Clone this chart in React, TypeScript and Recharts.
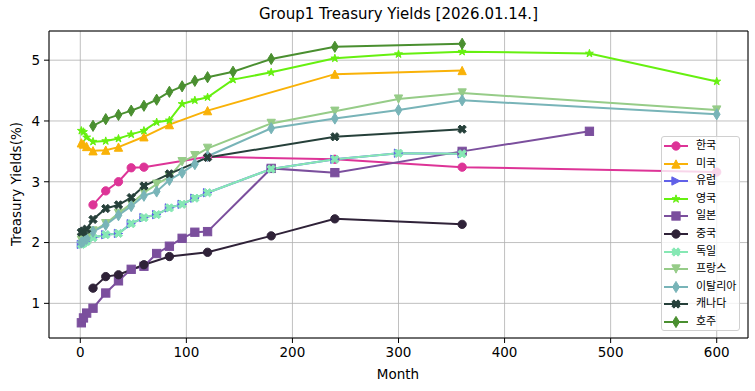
import React from 'react';
import {
  LineChart,
  Line,
  XAxis,
  YAxis,
  CartesianGrid,
  ReferenceArea
} from 'recharts';

// maturities (months) and yields (%) per country
const KR_X = [12, 24, 36, 48, 60, 120, 240, 360, 600];
const KR_Y = [2.62, 2.85, 3.0, 3.23, 3.24, 3.41, 3.37, 3.24, 3.16];

const US_X = [1, 3, 6, 12, 24, 36, 60, 84, 120, 240, 360];
const US_Y = [3.64, 3.62, 3.58, 3.51, 3.52, 3.57, 3.74, 3.94, 4.17, 4.77, 4.83];

const EU_X = [1, 3, 6, 12, 24, 36, 48, 60, 72, 84, 96, 108, 120, 180, 240, 300, 360];
const EU_Y = [1.97, 1.99, 2.02, 2.08, 2.13, 2.15, 2.31, 2.41, 2.46, 2.57, 2.63, 2.73, 2.82, 3.21, 3.37, 3.47, 3.46];

const UK_X = [1, 3, 6, 12, 24, 36, 48, 60, 72, 84, 96, 108, 120, 144, 180, 240, 300, 360, 480, 600];
const UK_Y = [3.84, 3.82, 3.73, 3.66, 3.67, 3.71, 3.78, 3.84, 3.98, 4.01, 4.28, 4.34, 4.39, 4.68, 4.8, 5.03, 5.1, 5.14, 5.11, 4.65];

const JP_X = [1, 3, 6, 12, 24, 36, 48, 60, 72, 84, 96, 108, 120, 180, 240, 360, 480];
const JP_Y = [0.68, 0.76, 0.84, 0.92, 1.17, 1.37, 1.56, 1.61, 1.82, 1.94, 2.07, 2.17, 2.18, 3.22, 3.15, 3.5, 3.83];

const CN_X = [12, 24, 36, 60, 84, 120, 180, 240, 360];
const CN_Y = [1.25, 1.44, 1.47, 1.635, 1.77, 1.84, 2.11, 2.39, 2.3];

const DE_X = [1, 3, 6, 12, 24, 36, 48, 60, 72, 84, 96, 108, 120, 180, 240, 300, 360];
const DE_Y = [1.97, 1.99, 2.02, 2.08, 2.13, 2.15, 2.31, 2.41, 2.46, 2.57, 2.63, 2.73, 2.82, 3.21, 3.37, 3.47, 3.46];

const FR_X = [1, 3, 6, 12, 24, 36, 48, 60, 72, 84, 96, 108, 120, 180, 240, 300, 360, 600];
const FR_Y = [2.04, 2.05, 2.08, 2.19, 2.31, 2.48, 2.64, 2.82, 2.96, 3.08, 3.33, 3.43, 3.55, 3.96, 4.16, 4.36, 4.46, 4.18];

const IT_X = [1, 3, 6, 12, 24, 36, 48, 60, 72, 84, 96, 108, 120, 180, 240, 300, 360, 600];
const IT_Y = [2.0, 2.02, 2.06, 2.18, 2.29, 2.45, 2.6, 2.77, 2.84, 3.03, 3.15, 3.29, 3.42, 3.88, 4.04, 4.18, 4.34, 4.11];

const CA_X = [1, 3, 6, 12, 24, 36, 48, 60, 84, 120, 240, 360];
const CA_Y = [2.17, 2.19, 2.22, 2.38, 2.56, 2.62, 2.74, 2.93, 3.13, 3.4, 3.74, 3.865];

const AU_X = [12, 24, 36, 48, 60, 72, 84, 96, 108, 120, 144, 180, 240, 360];
const AU_Y = [3.92, 4.03, 4.1, 4.17, 4.25, 4.35, 4.48, 4.57, 4.66, 4.72, 4.81, 5.02, 5.22, 5.27];

const X_TICKS = [0, 100, 200, 300, 400, 500, 600];
const Y_TICKS = [1, 2, 3, 4, 5];

type Shape = 'o' | '^' | '>' | '*' | 's' | 'X' | 'v' | 'd';

const zip = (xs: number[], ys: number[]) => xs.map((x, i) => ({ x, y: ys[i] }));

const SERIES: { name: string; color: string; shape: Shape; data: { x: number; y: number }[] }[] = [
  { name: '한국', color: '#dd3497', shape: 'o', data: zip(KR_X, KR_Y) },
  { name: '미국', color: '#f9b208', shape: '^', data: zip(US_X, US_Y) },
  { name: '유럽', color: '#6161e8', shape: '>', data: zip(EU_X, EU_Y) },
  { name: '영국', color: '#66f010', shape: '*', data: zip(UK_X, UK_Y) },
  { name: '일본', color: '#7b4f9d', shape: 's', data: zip(JP_X, JP_Y) },
  { name: '중국', color: '#2f2238', shape: 'o', data: zip(CN_X, CN_Y) },
  { name: '독일', color: '#86e8b4', shape: 'X', data: zip(DE_X, DE_Y) },
  { name: '프랑스', color: '#96cc88', shape: 'v', data: zip(FR_X, FR_Y) },
  { name: '이탈리아', color: '#78b4b8', shape: 'd', data: zip(IT_X, IT_Y) },
  { name: '캐나다', color: '#26403a', shape: 'X', data: zip(CA_X, CA_Y) },
  { name: '호주', color: '#4a8f30', shape: 'd', data: zip(AU_X, AU_Y) }
];

const FONT = '"DejaVu Sans", sans-serif';

function Marker({ shape, cx, cy, color }: { shape: Shape; cx: number; cy: number; color: string }) {
  const s = 4.15;
  const common = { fill: color, stroke: color, strokeWidth: 1 };
  if (cx == null || cy == null) return null;
  switch (shape) {
    case 'o':
      return <circle cx={cx} cy={cy} r={s} {...common} />;
    case 's':
      return <rect x={cx - s} y={cy - s} width={2 * s} height={2 * s} {...common} />;
    case '^':
      return <polygon points={`${cx},${cy - s} ${cx - s},${cy + s} ${cx + s},${cy + s}`} {...common} />;
    case 'v':
      return <polygon points={`${cx},${cy + s} ${cx - s},${cy - s} ${cx + s},${cy - s}`} {...common} />;
    case '>':
      return <polygon points={`${cx + s},${cy} ${cx - s},${cy - s} ${cx - s},${cy + s}`} {...common} />;
    case 'd': {
      const h = 5.6;
      const w = 3.4;
      return <polygon points={`${cx},${cy - h} ${cx + w},${cy} ${cx},${cy + h} ${cx - w},${cy}`} {...common} />;
    }
    case '*': {
      const pts: string[] = [];
      for (let i = 0; i < 10; i++) {
        const r = i % 2 === 0 ? s : s * 0.382;
        const a = (Math.PI / 5) * i - Math.PI / 2;
        pts.push(`${cx + r * Math.cos(a)},${cy + r * Math.sin(a)}`);
      }
      return <polygon points={pts.join(' ')} {...common} />;
    }
    case 'X': {
      const raw = [[-1, -2], [0, -1], [1, -2], [2, -1], [1, 0], [2, 1], [1, 2], [0, 1], [-1, 2], [-2, 1], [-1, 0], [-2, -1]];
      const k = s / 2;
      return <polygon points={raw.map(([a, b]) => `${cx + a * k},${cy + b * k}`).join(' ')} {...common} />;
    }
  }
  return null;
}

const YLabel = () => (
  <text
    transform="translate(21,184) rotate(-90)"
    textAnchor="middle"
    style={{ fontFamily: FONT, fontSize: 13.5, fill: '#000' }}
  >
    Treasury Yields(%)
  </text>
);

const XLabel = () => (
  <text x={398} y={379} textAnchor="middle" style={{ fontFamily: FONT, fontSize: 13.5, fill: '#000' }}>
    Month
  </text>
);

function LegendBox() {
  return (
    <div
      style={{
        position: 'absolute',
        left: 661,
        top: 136,
        width: 79,
        height: 195,
        border: '1px solid #d0d0d0',
        borderRadius: 3,
        background: 'rgba(255,255,255,0.8)',
        boxSizing: 'border-box'
      }}
    >
      {SERIES.map((s, i) => (
        <div key={s.name} style={{ position: 'absolute', left: 0, top: 9 + 17.6 * i - 8, height: 16, width: 78 }}>
          <svg width={28} height={16} style={{ position: 'absolute', left: 1, top: 0 }}>
            <line x1={1} y1={8} x2={25} y2={8} stroke={s.color} strokeWidth={2} />
            <Marker shape={s.shape} cx={13} cy={8} color={s.color} />
          </svg>
          <span
            style={{
              position: 'absolute',
              left: 34,
              top: 0,
              lineHeight: '16px',
              fontSize: 11,
              fontFamily: '"DejaVu Sans", "Noto Sans CJK KR", sans-serif',
              color: '#000',
              whiteSpace: 'nowrap'
            }}
          >
            {s.name}
          </span>
        </div>
      ))}
    </div>
  );
}

export default function App() {
  return (
    <div style={{ position: 'absolute', left: 0, top: 0, width: 755, height: 391, background: '#fff' }}>
      <div
        style={{
          position: 'absolute',
          left: 0,
          width: 797,
          top: 5,
          textAlign: 'center',
          fontFamily: FONT,
          fontSize: 15,
          color: '#000'
        }}
      >
        Group1 Treasury Yields [2026.01.14.]
      </div>
      <LineChart width={755} height={391} margin={{ top: 31, right: 7, left: 0, bottom: 12 }}>
        <CartesianGrid stroke="#b0b0b0" strokeWidth={0.8} />
        <XAxis
          type="number"
          dataKey="x"
          domain={[-29.5, 629.5]}
          ticks={X_TICKS}
          allowDataOverflow
          height={41}
          tickSize={5}
          tickMargin={4}
          axisLine={false}
          tickLine={{ stroke: '#000' }}
          tick={{ fill: '#000', fontSize: 13.5, fontFamily: FONT }}
          label={<XLabel />}
        />
        <YAxis
          type="number"
          dataKey="y"
          domain={[0.43, 5.48]}
          ticks={Y_TICKS}
          allowDataOverflow
          width={49}
          tickSize={5}
          tickMargin={4}
          axisLine={false}
          tickLine={{ stroke: '#000' }}
          tick={{ fill: '#000', fontSize: 13.5, fontFamily: FONT }}
          label={<YLabel />}
        />
        <ReferenceArea
          x1={-29.5}
          x2={629.5}
          y1={0.43}
          y2={5.48}
          fill="none"
          stroke="#000"
          strokeWidth={1}
          ifOverflow="visible"
        />
        {SERIES.map((s) => (
          <Line
            key={s.name}
            data={s.data}
            dataKey="y"
            name={s.name}
            type="linear"
            stroke={s.color}
            strokeWidth={2}
            isAnimationActive={false}
            activeDot={false}
            dot={(p: any) => <Marker key={`${s.name}-${p.index}`} shape={s.shape} cx={p.cx} cy={p.cy} color={s.color} />}
          />
        ))}
      </LineChart>
      <LegendBox />
    </div>
  );
}
